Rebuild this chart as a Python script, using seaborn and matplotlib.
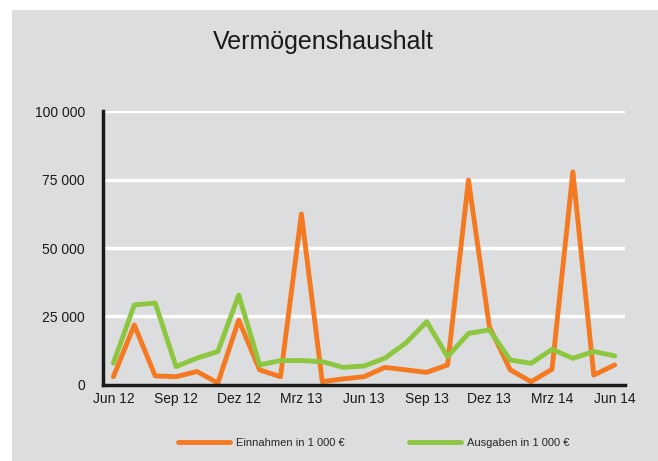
import numpy as np
import pandas as pd
import matplotlib
matplotlib.use("Agg")
import matplotlib.pyplot as plt
from matplotlib.patches import Rectangle
import seaborn as sns

# monthly values Jun 12 .. Jun 14 (in 1 000 EUR)
months = ["Jun 12", "Jul 12", "Aug 12", "Sep 12", "Okt 12", "Nov 12", "Dez 12",
          "Jan 13", "Feb 13", "Mrz 13", "Apr 13", "Mai 13", "Jun 13", "Jul 13",
          "Aug 13", "Sep 13", "Okt 13", "Nov 13", "Dez 13", "Jan 14", "Feb 14",
          "Mrz 14", "Apr 14", "Mai 14", "Jun 14"]
einnahmen = [3000, 21900, 3300, 3000, 4900, 700, 23700, 5500, 3000, 62400,
             1200, 2200, 3000, 6400, 5500, 4600, 7300, 74800, 21300, 5500,
             1200, 5700, 77800, 3600, 7300]
ausgaben = [8000, 29200, 29900, 6700, 9800, 12200, 32800, 7300, 8900, 8900,
            8500, 6400, 6900, 9800, 15300, 23100, 10300, 18800, 20100, 9100,
            7900, 13000, 9700, 12200, 10600]
tick_labels = ["Jun 12", "Sep 12", "Dez 12", "Mrz 13", "Jun 13", "Sep 13",
               "Dez 13", "Mrz 14", "Jun 14"]
series_names = ["Einnahmen in 1 000 €", "Ausgaben in 1 000 €"]

bg = "#dcdddf"
dark = "#1a1a1a"
colors = {series_names[0]: "#f47920", series_names[1]: "#8dc63f"}

df = pd.DataFrame({
    "pos": np.arange(len(months)) + 0.5,
    series_names[0]: einnahmen,
    series_names[1]: ausgaben,
}).melt(id_vars="pos", var_name="Serie", value_name="Wert")

sns.set_style("white")
plt.rcParams["font.family"] = ["Liberation Sans", "DejaVu Sans"]

fig = plt.figure(figsize=(6.58, 4.61), dpi=100)
fig.patch.set_facecolor("white")
# grey chart area with a small white margin top/left
fig.patches.append(Rectangle((12 / 658, 0), 1, 1 - 10 / 461,
                             transform=fig.transFigure, facecolor=bg,
                             edgecolor="none", zorder=-1))

ax = fig.add_axes([0.1565, 0.165, 0.7935, 0.594])
ax.set_facecolor(bg)

sns.lineplot(data=df, x="pos", y="Wert", hue="Serie", palette=colors,
             linewidth=3.5, ax=ax, legend=True)

n = len(months)
ax.set_xlim(0, n)
ax.set_ylim(0, 100000)
# tick marks on month boundaries, labels centred on the data points
ax.set_xticks(np.arange(0, n, 3))
ax.set_xticklabels([])
ax.set_xticks(np.arange(0, n, 3) + 0.5, minor=True)
ax.set_xticklabels(tick_labels, minor=True)
ax.set_yticks([0, 25000, 50000, 75000, 100000])
ax.set_yticklabels(["0", "25 000", "50 000", "75 000", "100 000"])
ax.set_xlabel("")
ax.set_ylabel("")

ax.yaxis.grid(True, color="white", linewidth=2.5)
ax.set_axisbelow(True)
for s in ["top", "right"]:
    ax.spines[s].set_visible(False)
for s in ["left", "bottom"]:
    ax.spines[s].set_color(dark)
    ax.spines[s].set_linewidth(2.5)
ax.tick_params(axis="both", which="major", direction="out", length=5, width=2,
               color=dark, labelsize=10, labelcolor=dark)
ax.tick_params(axis="y", pad=8)
ax.tick_params(axis="x", which="minor", length=0, pad=5, labelsize=10,
               labelcolor=dark)

fig.text(323 / 658, 1 - 42 / 461, "Vermögenshaushalt", ha="center",
         va="center", fontsize=18, color=dark)

handles, labels = ax.get_legend_handles_labels()
ax.legend(handles, labels, loc="center", bbox_to_anchor=(0.568, 0.039),
          bbox_transform=fig.transFigure, ncol=2, frameon=False,
          fontsize=8, handlelength=4.7, columnspacing=5.8, handletextpad=0.55)

fig.savefig("out.png", dpi=100, facecolor="white")
